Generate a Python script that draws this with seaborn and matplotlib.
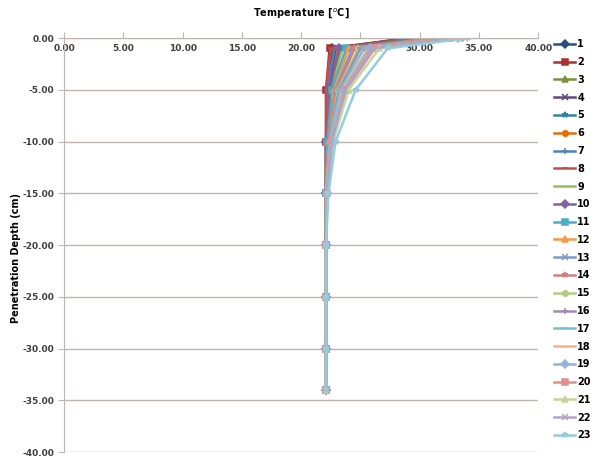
import matplotlib.pyplot as plt
import matplotlib.ticker as mticker
import pandas as pd
import seaborn as sns

depths = [0, -1, -5, -10, -15, -20, -25, -30, -34]
series = [str(i) for i in range(1, 24)]

# temperature at each depth, one list per depth level (index = series)
t_0 = [29.2, 29.0, 29.5, 29.8, 30.2, 30.0, 30.5, 30.8, 31.2, 30.4, 31.0, 31.5,
       31.8, 32.0, 32.3, 32.5, 32.8, 32.7, 33.2, 32.6, 33.5, 33.8, 34.1]
t_1 = [22.6, 22.4, 22.9, 23.0, 23.3, 23.1, 22.8, 22.5, 23.5, 23.2, 23.8, 24.0,
       24.3, 24.5, 24.8, 25.0, 25.3, 25.6, 25.8, 26.2, 26.6, 26.0, 27.3]
t_5 = [22.2, 22.1, 22.3, 22.3, 22.4, 22.5, 22.2, 22.1, 22.5, 22.4, 22.6, 22.8,
       22.9, 23.0, 23.1, 23.2, 23.3, 23.5, 23.6, 23.8, 24.0, 23.7, 24.6]
t_10 = [22.1, 22.1, 22.1, 22.1, 22.2, 22.2, 22.1, 22.1, 22.2, 22.2, 22.2, 22.3,
        22.3, 22.3, 22.4, 22.4, 22.4, 22.5, 22.5, 22.6, 22.7, 22.6, 22.9]
t_15 = [22.1, 22.1, 22.1, 22.1, 22.1, 22.1, 22.1, 22.1, 22.1, 22.1, 22.1, 22.1,
        22.1, 22.1, 22.1, 22.2, 22.2, 22.2, 22.2, 22.2, 22.2, 22.2, 22.3]
t_deep = [22.1] * 23  # -20, -25, -30, -34

colors = ['#2C4D80', '#A83232', '#77933C', '#604A7B', '#31859C', '#E46C0A',
          '#4F81BD', '#C0504D', '#9BBB59', '#8064A2', '#4BACC6', '#F79646',
          '#7E9BC8', '#D47F7D', '#B3CC82', '#A08AB9', '#77C0D4', '#F9B07A',
          '#95B3D7', '#E0918F', '#C3D69B', '#B3A2C7', '#93CDDD']
markers = ['D', 's', '^', 'x', '*', 'o', '+', '_', '']

fig, ax = plt.subplots(figsize=(5.94, 4.70), dpi=100)
fig.subplots_adjust(left=0.108, right=0.906, top=0.919, bottom=0.038)

for i, name in enumerate(series):
    temps = [t_0[i], t_1[i], t_5[i], t_10[i], t_15[i]] + [t_deep[i]] * 4
    df = pd.DataFrame({"Temperature": temps, "Depth": depths})
    sns.lineplot(df, x="Temperature", y="Depth", sort=False, estimator=None,
                 color=colors[i], marker=markers[i % 9], markersize=4,
                 markeredgewidth=1.1, markeredgecolor=colors[i],
                 linewidth=1.8, label=name, ax=ax, legend=False)

ax.set_xlim(0, 40)
ax.set_ylim(-40, 0)
ax.xaxis.set_major_locator(mticker.MultipleLocator(5))
ax.yaxis.set_major_locator(mticker.MultipleLocator(5))
ax.xaxis.set_major_formatter(mticker.FormatStrFormatter('%.2f'))
ax.yaxis.set_major_formatter(mticker.FormatStrFormatter('%.2f'))

grid_c = '#BDB5AE'
ax.yaxis.grid(True, color=grid_c, linewidth=1)
ax.set_axisbelow(True)
ax.spines['top'].set_visible(False)
ax.spines['right'].set_visible(False)
ax.spines['bottom'].set_position(('data', 0))
ax.spines['bottom'].set_color(grid_c)
ax.spines['left'].set_color(grid_c)
ax.tick_params(axis='x', direction='in', length=4, color=grid_c, pad=4,
               labelsize=6.5, labelcolor='#404040')
ax.tick_params(axis='y', direction='out', length=4, color=grid_c, pad=3,
               labelsize=6.5, labelcolor='#404040')
for lab in ax.get_xticklabels() + ax.get_yticklabels():
    lab.set_fontweight('bold')

ax.set_xlabel("")
ax.set_ylabel("Penetration Depth (cm)", fontsize=7, fontweight='bold')
ax.yaxis.set_label_coords(-0.09, 0.47)
ax.set_title("Temperature [$^{o}$C]", fontsize=7, fontweight='bold', pad=16)

handles, labels = ax.get_legend_handles_labels()
fig.legend(handles, labels, loc='upper left', bbox_to_anchor=(0.918, 0.935),
           frameon=False, labelspacing=0.8, handlelength=2.2,
           handletextpad=0.2, prop={'weight': 'bold', 'size': 7})

plt.savefig("out.png", dpi=100)
